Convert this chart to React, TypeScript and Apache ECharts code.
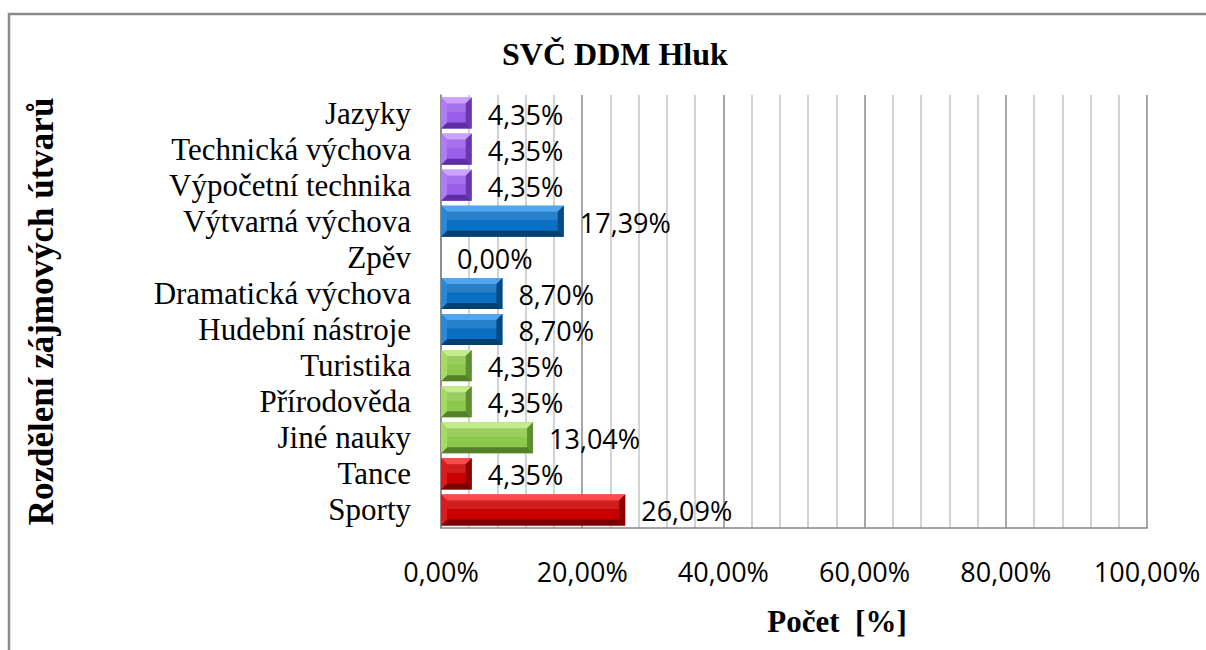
import React, { useEffect, useRef } from "react";
import * as echarts from "echarts";

const categories = [
  "Sporty",
  "Tance",
  "Jiné nauky",
  "Přírodověda",
  "Turistika",
  "Hudební nástroje",
  "Dramatická výchova",
  "Zpěv",
  "Výtvarná výchova",
  "Výpočetní technika",
  "Technická výchova",
  "Jazyky",
];
const values = [26.09, 4.35, 13.04, 4.35, 4.35, 8.7, 8.7, 0.0, 17.39, 4.35, 4.35, 4.35];
const groups = ["red", "red", "green", "green", "green", "blue", "blue", "blue", "blue", "purple", "purple", "purple"];
const title = "SVČ DDM Hluk";
const xName = "Počet  [%]";
const yName = "Rozdělení zájmových útvarů";

const palette: Record<string, { base: string; top: string; bottom: string; left: string; right: string }> = {
  red: { base: "#C80000", top: "#FF4A4A", bottom: "#7A0000", left: "#E01A1A", right: "#8E0000" },
  green: { base: "#8CC84B", top: "#C4EC8E", bottom: "#54802A", left: "#A6DA66", right: "#5E8E30" },
  blue: { base: "#0A6FC2", top: "#4FA6EE", bottom: "#03406F", left: "#2A88D6", right: "#034A82" },
  purple: { base: "#9A5FEA", top: "#CBA2FF", bottom: "#5E2EA4", left: "#B07CF5", right: "#6A36B0" },
};

const fmt = (v: number) => v.toFixed(2).replace(".", ",") + "%";

export default function App() {
  const ref = useRef<HTMLDivElement>(null);
  useEffect(() => {
    document.body.style.margin = "0";
    const chart = echarts.init(ref.current!, null, { renderer: "svg" });
    const data = values.map((v, i) => [v, i]);
    chart.setOption({
      animation: false,
      backgroundColor: "#ffffff",
      title: {
        text: title,
        left: 502,
        top: 38,
        padding: 0,
        textStyle: { fontFamily: "Liberation Serif", fontWeight: "bold", fontSize: 32, color: "#000" },
      },
      graphic: [
        {
          type: "rect",
          shape: { x: 9, y: 14, width: 1400, height: 800 },
          style: { fill: "none", stroke: "#8a8a8a", lineWidth: 2.5 },
          silent: true,
        },
      ],
      grid: { left: 441, right: 59, top: 95, bottom: 122 },
      xAxis: {
        type: "value",
        min: 0,
        max: 100,
        interval: 20,
        name: xName,
        nameLocation: "middle",
        nameGap: 78,
        nameTextStyle: {
          fontFamily: "Liberation Serif",
          fontWeight: "bold",
          fontSize: 31,
          color: "#000",
          padding: [0, 0, 0, 86],
        },
        axisLine: { show: true, lineStyle: { color: "#868686", width: 1.5 } },
        axisTick: { show: false },
        axisLabel: {
          formatter: (v: number) => fmt(v),
          fontFamily: "Open Sans",
          fontSize: 27,
          color: "#000",
          margin: 30,
        },
        splitLine: { show: true, lineStyle: { color: "#8a8a8a", width: 1.5 } },
        minorTick: { show: false, splitNumber: 5 },
        minorSplitLine: { show: true, lineStyle: { color: "#c4c4c4", width: 1.5 } },
      },
      yAxis: {
        type: "category",
        data: categories,
        name: yName,
        nameLocation: "middle",
        nameGap: 382,
        nameRotate: 90,
        nameTextStyle: {
          fontFamily: "Liberation Serif",
          fontWeight: "bold",
          fontSize: 35,
          color: "#000",
        },
        axisLine: { show: true, lineStyle: { color: "#868686", width: 1.5 } },
        axisTick: { show: false },
        axisLabel: {
          interval: 0,
          fontFamily: "Liberation Serif",
          fontSize: 31,
          color: "#000",
          margin: 30,
        },
        splitLine: { show: false },
      },
      series: [
        {
          type: "custom",
          encode: { x: 0, y: 1 },
          data,
          renderItem: (params: any, api: any) => {
            const val = api.value(0) as number;
            const idx = api.value(1) as number;
            const c = palette[groups[idx]];
            const s = api.coord([0, idx]);
            const e = api.coord([val, idx]);
            const h = api.size([0, 1])[1] * 0.86;
            const x0 = s[0];
            const x1 = e[0];
            const yc = s[1];
            const y0 = yc - h / 2;
            const y1 = yc + h / 2;
            const children: any[] = [];
            if (x1 - x0 > 0.5) {
              const b = Math.min(6, (x1 - x0) / 2, h / 2);
              children.push({
                type: "rect",
                shape: { x: x0, y: y0, width: x1 - x0, height: h },
                style: { fill: c.base },
              });
              children.push({
                type: "polygon",
                shape: { points: [[x0, y0], [x1, y0], [x1 - b, y0 + b], [x0 + b, y0 + b]] },
                style: { fill: c.top },
              });
              children.push({
                type: "polygon",
                shape: { points: [[x0, y1], [x1, y1], [x1 - b, y1 - b], [x0 + b, y1 - b]] },
                style: { fill: c.bottom },
              });
              children.push({
                type: "polygon",
                shape: { points: [[x0, y0], [x0 + b, y0 + b], [x0 + b, y1 - b], [x0, y1]] },
                style: { fill: c.left },
              });
              children.push({
                type: "polygon",
                shape: { points: [[x1, y0], [x1 - b, y0 + b], [x1 - b, y1 - b], [x1, y1]] },
                style: { fill: c.right },
              });
              children.push({
                type: "rect",
                shape: { x: x0 + b, y: y0 + b, width: Math.max(0, x1 - x0 - 2 * b), height: (h - 2 * b) * 0.45 },
                style: { fill: "rgba(255,255,255,0.12)" },
              });
            }
            children.push({
              type: "text",
              style: {
                x: x1 + 16,
                y: yc + 1,
                text: fmt(val),
                fontFamily: "Open Sans",
                fontSize: 27,
                fill: "#000",
                align: "left",
                verticalAlign: "middle",
              },
            });
            return { type: "group", children };
          },
        },
      ],
    });
    return () => chart.dispose();
  }, []);
  return <div ref={ref} style={{ width: 1206, height: 650 }} />;
}
